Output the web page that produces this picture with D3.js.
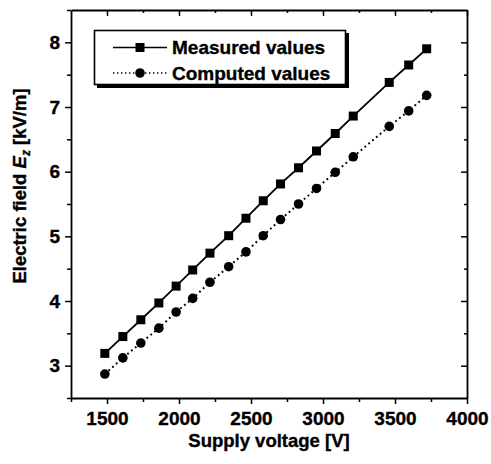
<!DOCTYPE html>
<html>
<head>
<meta charset="utf-8">
<script src="https://cdn.jsdelivr.net/npm/d3@7/dist/d3.min.js"></script>
<style>
  html, body { margin: 0; padding: 0; background: #fff; }
  svg { display: block; }
  text { font-family: "Liberation Sans", Arial, Helvetica, sans-serif; font-weight: bold; fill: #000; stroke: #000; stroke-width: 0.35px; }
</style>
</head>
<body>
<svg id="chart" width="491" height="464"></svg>
<script>
// ---- data ----
const voltage  = [1485, 1610, 1735, 1860, 1980, 2095, 2215, 2345, 2465, 2585, 2705, 2830, 2955, 3085, 3210, 3460, 3595, 3720];
const measured = [3.19, 3.45, 3.71, 3.97, 4.23, 4.48, 4.74, 5.01, 5.28, 5.55, 5.81, 6.06, 6.32, 6.59, 6.86, 7.38, 7.65, 7.90];
const computed = [2.87, 3.12, 3.35, 3.58, 3.83, 4.04, 4.29, 4.53, 4.76, 5.01, 5.26, 5.50, 5.74, 5.99, 6.23, 6.70, 6.94, 7.18];
const seriesNames = ["Measured values", "Computed values"];
const xMajorTicks = [1500, 2000, 2500, 3000, 3500, 4000];
const xMinorTicks = [1250, 1750, 2250, 2750, 3250, 3750];
const yMajorTicks = [3, 4, 5, 6, 7, 8];
const yMinorTicks = [2.5, 3.5, 4.5, 5.5, 6.5, 7.5, 8.5];
const xTitle = "Supply voltage [V]";

// ---- layout ----
const L = 71, R = 467, T = 10, B = 398;
const svg = d3.select("#chart");
const x = d3.scaleLinear().domain([1250, 4000]).range([L, R]);
const y = d3.scaleLinear().domain([2.5, 8.5]).range([B, T]);

function styleAxis(g) {
  g.selectAll("path").attr("stroke", "#000").attr("stroke-width", 1.8);
  g.selectAll("line").attr("stroke", "#000").attr("stroke-width", 1.5);
  g.selectAll("text").style("font-size", "19px").attr("fill", "#000");
}

// bottom (outward ticks)
svg.append("g").attr("transform", `translate(0,${B})`)
  .call(d3.axisBottom(x).tickValues(xMinorTicks).tickSize(4).tickFormat(""))
  .call(styleAxis).call(g => g.select("path").remove());
svg.append("g").attr("transform", `translate(0,${B})`)
  .call(d3.axisBottom(x).tickValues(xMajorTicks).tickSizeInner(6).tickSizeOuter(0).tickPadding(8).tickFormat(d3.format("d")))
  .call(styleAxis);
// left (outward ticks)
svg.append("g").attr("transform", `translate(${L},0)`)
  .call(d3.axisLeft(y).tickValues(yMinorTicks).tickSize(4).tickFormat(""))
  .call(styleAxis).call(g => g.select("path").remove());
svg.append("g").attr("transform", `translate(${L},0)`)
  .call(d3.axisLeft(y).tickValues(yMajorTicks).tickSizeInner(6).tickSizeOuter(0).tickPadding(5).tickFormat(d3.format("d")))
  .call(styleAxis);
// top (inward ticks, no labels)
svg.append("g").attr("transform", `translate(0,${T})`)
  .call(d3.axisTop(x).tickValues(xMinorTicks.slice(1)).tickSize(-3).tickFormat(""))
  .call(styleAxis).call(g => g.select("path").remove());
svg.append("g").attr("transform", `translate(0,${T})`)
  .call(d3.axisTop(x).tickValues(xMajorTicks).tickSizeInner(-6).tickSizeOuter(0).tickFormat(""))
  .call(styleAxis);
// right (inward ticks, no labels)
svg.append("g").attr("transform", `translate(${R},0)`)
  .call(d3.axisRight(y).tickValues(yMinorTicks.slice(1, -1)).tickSize(-3).tickFormat(""))
  .call(styleAxis).call(g => g.select("path").remove());
svg.append("g").attr("transform", `translate(${R},0)`)
  .call(d3.axisRight(y).tickValues(yMajorTicks).tickSizeInner(-6).tickSizeOuter(0).tickFormat(""))
  .call(styleAxis);

// axis titles
svg.append("text").attr("x", (L + R) / 2).attr("y", 447).attr("text-anchor", "middle")
  .style("font-size", "18.5px").text(xTitle);
const yt = svg.append("text").attr("transform", `translate(26,${(T + B) / 2 - 18}) rotate(-90)`)
  .attr("text-anchor", "middle").style("font-size", "18.5px");
yt.append("tspan").text("Electric field ");
yt.append("tspan").style("font-style", "italic").text("E");
yt.append("tspan").attr("dy", 4).style("font-size", "12px").style("font-style", "italic").text("z");
yt.append("tspan").attr("dy", -4).text(" [kV/m]");

// data
const pts = voltage.map((v, i) => ({ v, m: measured[i], c: computed[i] }));
const lineM = d3.line().x(d => x(d.v)).y(d => y(d.m));
const lineC = d3.line().x(d => x(d.v)).y(d => y(d.c));
svg.append("path").datum(pts).attr("d", lineM).attr("fill", "none").attr("stroke", "#000").attr("stroke-width", 1.8);
svg.append("path").datum(pts).attr("d", lineC).attr("fill", "none").attr("stroke", "#000")
  .attr("stroke-width", 2).attr("stroke-dasharray", "1.8,3.2");
const S = 9;
svg.append("g").selectAll("rect").data(pts).join("rect")
  .attr("x", d => x(d.v) - S / 2).attr("y", d => y(d.m) - S / 2).attr("width", S).attr("height", S).attr("fill", "#000");
svg.append("g").selectAll("circle").data(pts).join("circle")
  .attr("cx", d => x(d.v)).attr("cy", d => y(d.c)).attr("r", 4.8).attr("fill", "#000");

// legend
const lg = svg.append("g");
lg.append("rect").attr("x", 97).attr("y", 33).attr("width", 252).attr("height", 55).attr("fill", "#000");
lg.append("rect").attr("x", 94.5).attr("y", 30.5).attr("width", 251).attr("height", 54)
  .attr("fill", "#fff").attr("stroke", "#000").attr("stroke-width", 1.6);
const rows = [47.5, 73];
lg.append("line").attr("x1", 113).attr("x2", 167).attr("y1", rows[0]).attr("y2", rows[0]).attr("stroke", "#000").attr("stroke-width", 1.5);
lg.append("rect").attr("x", 140 - S / 2).attr("y", rows[0] - S / 2).attr("width", S).attr("height", S).attr("fill", "#000");
lg.append("line").attr("x1", 113).attr("x2", 167).attr("y1", rows[1]).attr("y2", rows[1]).attr("stroke", "#000").attr("stroke-width", 1.6).attr("stroke-dasharray", "1.4,2.6");
lg.append("circle").attr("cx", 140).attr("cy", rows[1]).attr("r", 4.8).attr("fill", "#000");
seriesNames.forEach((n, i) => {
  lg.append("text").attr("x", 172).attr("y", rows[i]).attr("dy", "0.36em").style("font-size", "19px").text(n);
});
</script>
</body>
</html>
